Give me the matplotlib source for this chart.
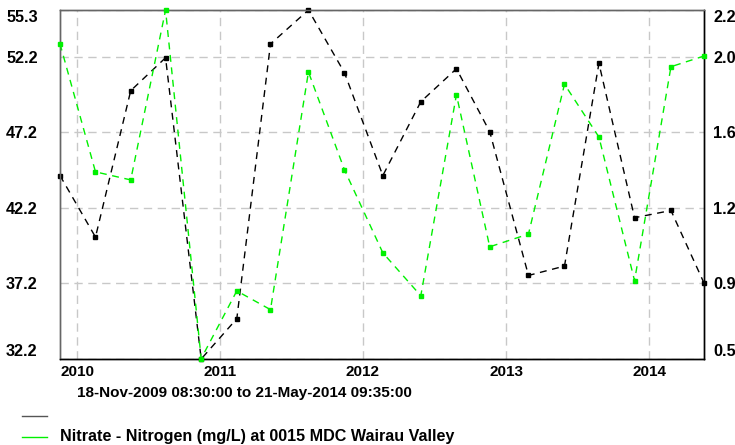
import matplotlib
matplotlib.use("Agg")
import matplotlib.pyplot as plt
from matplotlib.lines import Line2D
import datetime as dt

plt.rcParams['font.family'] = ['Liberation Sans', 'DejaVu Sans']

dates = ["2009-11-18 08:30", "2010-02-17", "2010-05-18", "2010-08-15", "2010-11-14",
         "2011-02-13", "2011-05-10", "2011-08-15", "2011-11-15", "2012-02-21",
         "2012-05-28", "2012-08-27", "2012-11-20", "2013-02-27", "2013-05-30",
         "2013-08-26", "2013-11-25", "2014-02-26", "2014-05-21 09:35"]
black_vals = [44.34, 40.27, 49.96, 52.14, 32.2, 34.87, 53.05, 55.3, 51.15, 44.34,
              49.23, 51.41, 47.25, 37.73, 38.35, 51.77, 41.55, 42.03, 37.23]
nitrate_vals = [2.055, 1.419, 1.379, 2.222, 0.492, 0.828, 0.735, 1.915, 1.429, 1.017,
                0.804, 1.802, 1.047, 1.110, 1.854, 1.592, 0.879, 1.941, 1.994]
left_ticks = [32.2, 37.2, 42.2, 47.2, 52.2, 55.3]
year_ticks = ["2010", "2011", "2012", "2013", "2014"]
legend_label = "Nitrate - Nitrogen (mg/L) at 0015 MDC Wairau Valley"
range_label = "18-Nov-2009 08:30:00 to 21-May-2014 09:35:00"

# right axis mapping (right = r0 + slope*(left - 32.2))
r0, slope = 0.49, 0.075

x = [dt.datetime.fromisoformat(d) for d in dates]
GREEN = '#00f000'

fig = plt.figure(figsize=(7.35, 4.45), dpi=100)
ax = fig.add_axes([60/735, 1-359/445, (704-60)/735, (359-10)/445])
ax2 = ax.twinx()

ax.set_xlim(x[0], x[-1])
ax.set_ylim(left_ticks[0], left_ticks[-1])
ax2.set_ylim(r0, r0 + slope*(left_ticks[-1]-left_ticks[0]))

ax.plot(x, black_vals, color='black', lw=1, ls=(0, (5, 4)), marker='s', ms=3,
        clip_on=False, zorder=3)
ax2.plot(x, nitrate_vals, color=GREEN, lw=1, ls=(0, (5, 4)), marker='s', ms=3,
         mec=GREEN, clip_on=False, zorder=3)

ax.set_yticks(left_ticks)
ax.set_yticklabels([f"{v:.1f}" for v in left_ticks])
rt = [r0 + slope*(v-left_ticks[0]) for v in left_ticks]
ax2.set_yticks(rt)
ax2.set_yticklabels([f"{v:.1f}" for v in rt])

ax.set_xticks([dt.datetime(int(y), 1, 1) for y in year_ticks])
ax.set_xticklabels(year_ticks)

for a in (ax, ax2):
    a.tick_params(length=0, labelsize=11.7)
    for lab in a.get_yticklabels() + a.get_xticklabels():
        lab.set_fontweight('bold')
ax.tick_params(axis='y', pad=16)
ax2.tick_params(axis='y', pad=6.5)
ax.tick_params(axis='x', pad=4, labelsize=11)

# edge labels inside range
ylabs = ax.get_yticklabels()
ylabs[0].set_va('bottom'); ylabs[-1].set_va('top')
rlabs = ax2.get_yticklabels()
rlabs[0].set_va('bottom'); rlabs[-1].set_va('top')

ax.grid(True, color='#c8c8c8', ls=(0, (6, 4)), lw=1)
ax.set_axisbelow(True)
for a in (ax, ax2):
    a.spines['top'].set_color('#666666')
    a.spines['left'].set_color('#666666')
    a.spines['bottom'].set_color('black')
    a.spines['right'].set_color('black')
    for s in a.spines.values():
        s.set_linewidth(1)

fig.text(77/735, 1-393/445, range_label, fontsize=11, fontweight='bold',
         ha='left', va='center')
fig.add_artist(Line2D([22/735, 47/735], [1-416/445]*2, color='#555555', lw=1))
fig.add_artist(Line2D([22/735, 47/735], [1-437/445]*2, color=GREEN, lw=1))
fig.text(60/735, 1-436/445, legend_label, fontsize=11.6, fontweight='bold',
         ha='left', va='center')

fig.savefig("out.png", dpi=100)
